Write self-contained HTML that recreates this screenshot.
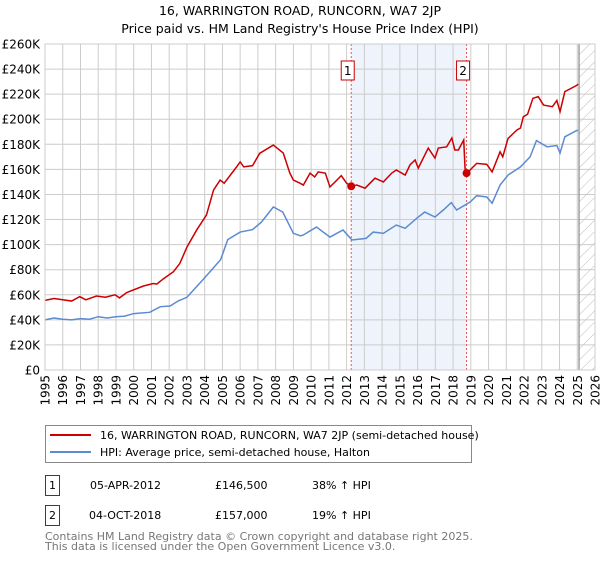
<!DOCTYPE html>
<html><head><meta charset="utf-8"><style>
body{margin:0;background:#fff;font-family:"Liberation Sans","DejaVu Sans",sans-serif;}
svg text{font-family:"DejaVu Sans","Liberation Sans",sans-serif;}
</style></head><body>
<svg id="c" width="600" height="560" viewBox="0 0 600 560" xmlns="http://www.w3.org/2000/svg">
<defs><pattern id="hatch" width="8" height="8" patternUnits="userSpaceOnUse" patternTransform="rotate(45)"><line x1="0" y1="0" x2="0" y2="8" stroke="#bbb" stroke-width="1"/></pattern></defs>
<text x="300" y="15" text-anchor="middle" font-size="12.5">16, WARRINGTON ROAD, RUNCORN, WA7 2JP</text>
<text x="300" y="33" text-anchor="middle" font-size="12.5">Price paid vs. HM Land Registry's House Price Index (HPI)</text>
<g id="plot"></g>
<g>
<rect x="45.5" y="425.5" width="426" height="37" fill="#fff" stroke="#888"/>
<line x1="50" y1="435" x2="91" y2="435" stroke="#cc0000" stroke-width="2"/>
<text x="100" y="439" font-size="11">16, WARRINGTON ROAD, RUNCORN, WA7 2JP (semi-detached house)</text>
<line x1="50" y1="452" x2="91" y2="452" stroke="#5b8bd0" stroke-width="2"/>
<text x="100" y="456" font-size="11">HPI: Average price, semi-detached house, Halton</text>
</g>
<g font-size="11">
<rect x="45.5" y="475.5" width="14" height="20" fill="none" stroke="#cc0000"/><text x="52.5" y="489" text-anchor="middle">1</text>
<text x="90" y="489">05-APR-2012</text><text x="215" y="489">£146,500</text><text x="312" y="489">38% ↑ HPI</text>
<rect x="45.5" y="505.5" width="14" height="20" fill="none" stroke="#cc0000"/><text x="52.5" y="519" text-anchor="middle">2</text>
<text x="89" y="519">04-OCT-2018</text><text x="215" y="519">£157,000</text><text x="312" y="519">19% ↑ HPI</text>
</g>
<text x="45" y="540" font-size="11" fill="#777">Contains HM Land Registry data © Crown copyright and database right 2025.</text>
<text x="45" y="550" font-size="11" fill="#777">This data is licensed under the Open Government Licence v3.0.</text>
</svg>
<script>
const hpiYears=[1995,1995.5,1996,1996.5,1997,1997.5,1998,1998.5,1999,1999.5,2000,2000.9,2001.5,2002.05,2002.5,2003,2003.9,2004.4,2004.9,2005.3,2006.0,2006.7,2007.2,2007.87,2008.4,2009,2009.4,2009.56,2010.3,2011.06,2011.8,2012.3,2013.1,2013.5,2014.07,2014.8,2015.3,2015.95,2016.4,2016.98,2017.45,2017.9,2018.2,2018.96,2019.33,2019.9,2020.2,2020.65,2021.1,2021.8,2022.34,2022.7,2023.3,2023.85,2024.03,2024.3,2024.97,2025.05];
const hpiValues=[40,41.5,40.5,40,41,40.5,42.5,41.5,42.5,43,45,46,50.5,51,55,58,72,80,88,104,110,112,118,130,126,109,107,107.7,114,106,111.7,103.7,105,110,109,115.6,113,121,126,122,127.6,133.5,127.6,134,139,138,133,147.5,155.5,162,170,183,178,179,173,186,191,191];
const priceYears=[1995,1995.5,1996,1996.5,1996.96,1997.3,1997.9,1998.4,1998.95,1999.2,1999.6,2000.55,2001.1,2001.3,2001.7,2002.24,2002.6,2003,2003.55,2004.1,2004.5,2004.87,2005.1,2005.8,2006,2006.2,2006.7,2007.1,2007.87,2008.43,2008.8,2009.0,2009.37,2009.56,2009.94,2010.2,2010.4,2010.8,2011.06,2011.35,2011.7,2012.0,2012.26,2012.57,2013.04,2013.6,2014.07,2014.54,2014.8,2015.3,2015.57,2015.86,2016.04,2016.6,2016.98,2017.17,2017.64,2017.93,2018.1,2018.3,2018.6,2018.68,2018.76,2018.96,2019.33,2019.9,2020.2,2020.65,2020.8,2021.1,2021.6,2021.8,2021.96,2022.2,2022.5,2022.8,2023.1,2023.6,2023.85,2024.03,2024.3,2024.97,2025.05];
const priceValues=[55.5,57,56,55,58.5,56,59,58,60,57.5,61.7,67,69,68.5,73,78.4,85,98,111.7,123.6,143.5,151.5,149,162,166,162,163,172.8,179.4,173,157,151.5,149,147.5,157,154,158,157,146,150,155,149,146.5,147.5,145,153,150,157,159.5,155.5,163.5,167.5,161,177,169,177,178,185,175.5,175.5,183.4,159.5,157,159.5,164.8,164,158,174,170,184.7,191.4,193,202,204,216.7,218,211.3,210,215,206,222,227,228];
const saleYears=[2012.26,2018.76];
const saleValues=[146.5,157];
const saleLabels=['1','2'];
const yTicks=[0,20,40,60,80,100,120,140,160,180,200,220,240,260];
const xTicks=[1995,1996,1997,1998,1999,2000,2001,2002,2003,2004,2005,2006,2007,2008,2009,2010,2011,2012,2013,2014,2015,2016,2017,2018,2019,2020,2021,2022,2023,2024,2025,2026];
const hatchStart=2025.1;

const L=45,R=595,T=44,B=370;
const X=y=>L+(y-1995)/(2026-1995)*(R-L);
const Y=v=>B-v/260*(B-T);
const NS='http://www.w3.org/2000/svg';
const g=document.getElementById('plot');
function mk(tag,attrs,parent){const e=document.createElementNS(NS,tag);for(const k in attrs)e.setAttribute(k,attrs[k]);(parent||g).appendChild(e);return e;}

const band=mk('rect',{x:X(saleYears[0]),y:T,width:X(saleYears[1])-X(saleYears[0]),height:B-T,fill:'#eef3fc'});


const hz=mk('rect',{x:X(hatchStart),y:T,width:R-X(hatchStart),height:B-T,fill:'url(#hatch)'});



yTicks.forEach(v=>{
  const l=mk('line',{x1:L,x2:R,y1:Y(v),y2:Y(v),stroke:'#cccccc','stroke-width':1});
  
  
  const t=mk('text',{x:L-5,y:Y(v)+4.5,'text-anchor':'end','font-size':12});
  
  
  t.textContent=v===0?'£0':'£'+v+'K';
});
xTicks.forEach(yr=>{
  const l=mk('line',{x1:X(yr),x2:X(yr),y1:T,y2:B,stroke:'#cccccc','stroke-width':1});
  
  
  const t=mk('text',{x:0,y:0,'text-anchor':'end','font-size':12,transform:`translate(${X(yr)+4.5},${B+5}) rotate(-90)`});
  
  
  t.textContent=yr;
});
const vl=mk('line',{x1:X(hatchStart),x2:X(hatchStart),y1:T,y2:B,stroke:'#888','stroke-width':1.2});



saleYears.forEach((yr,i)=>{
  const l=mk('line',{x1:X(yr),x2:X(yr),y1:T,y2:B,stroke:'#ee5555','stroke-width':1,'stroke-dasharray':'2,2'});
  
  
  const r=mk('rect',{x:X(yr)-10,y:61,width:13,height:19,fill:'#fff',stroke:'#cc0000'});
  
  
  const t=mk('text',{x:X(yr)-3.5,y:75,'text-anchor':'middle','font-size':12});
  
  
  t.textContent=saleLabels[i];
});

const hp=mk('polyline',{points:hpiYears.map((y,i)=>X(y)+','+Y(hpiValues[i])).join(' '),fill:'none',stroke:'#5b8bd0','stroke-width':1.5});


const pp=mk('polyline',{points:priceYears.map((y,i)=>X(y)+','+Y(priceValues[i])).join(' '),fill:'none',stroke:'#cc0000','stroke-width':1.5});


saleYears.forEach((yr,i)=>{
  const c=mk('circle',{cx:X(yr),cy:Y(saleValues[i]),r:4,fill:'#cc0000'});
  
  
});
const fr=mk('rect',{x:L,y:T,width:R-L,height:B-T,fill:'none',stroke:'#cccccc'});


</script>
</body></html>
